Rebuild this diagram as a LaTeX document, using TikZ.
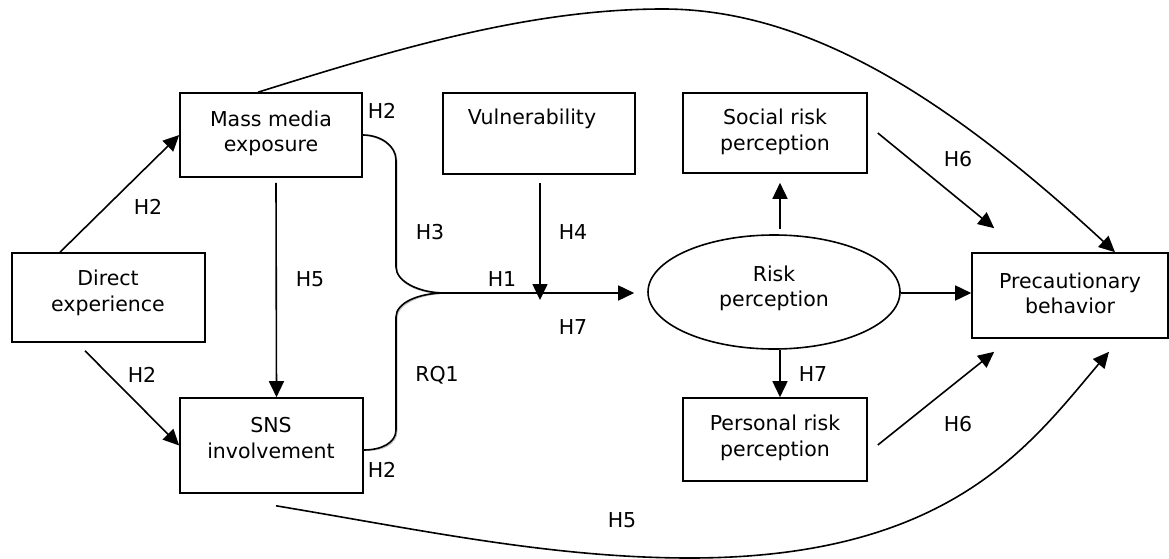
\documentclass[tikz,border=0pt]{standalone}
\usepackage{fontspec}
\setmainfont{DejaVu Sans}
\usetikzlibrary{arrows.meta,shapes.geometric,calc}
\begin{document}
\begin{tikzpicture}[x=1pt,y=-1pt,
  font=\fontsize{20.5}{25.5}\selectfont,
  box/.style={draw,line width=1.6pt,rectangle,inner sep=0pt},
  txt/.style={align=center,inner sep=0pt},
  lab/.style={inner sep=0pt},
  conn/.style={line width=1.6pt},
  arr/.style={line width=1.6pt,-{Triangle[length=16pt,width=15pt]}},
  shadowline/.style={line width=1.4pt,gray!45}
]
\useasboundingbox (0,0) rectangle (1169,559);

% boxes
\node[box,minimum width=182pt,minimum height=84pt] (mm) at (271,135) {};
\node[box,minimum width=193pt,minimum height=89pt] (de) at (108.5,297.5) {};
\node[box,minimum width=183pt,minimum height=95pt] (sns) at (271.5,445.5) {};
\node[box,minimum width=192pt,minimum height=81pt] (vu) at (539,133.5) {};
\node[box,minimum width=184pt,minimum height=80pt] (so) at (775,133) {};
\node[box,minimum width=184pt,minimum height=83pt] (pe) at (775,439.5) {};
\node[box,minimum width=196pt,minimum height=85pt] (pb) at (1070,295.5) {};
\node[draw,line width=1.6pt,ellipse,inner sep=0pt,minimum width=252pt,minimum height=114pt] (rp) at (774,292) {};

% box texts
\node[txt] (tmm) at (271,133.5) {Mass media\\exposure};
\node[txt] (tde) at (108,293) {Direct\\experience};
\node[txt] (tsns) at (271,438) {SNS\\involvement};
\node[txt] (tvu) at (532,119) {Vulnerability};
\node[txt] (tso) at (775,132) {Social risk\\perception};
\node[txt] (trp) at (774,288.5) {Risk\\perception};
\node[txt] (tpb) at (1070,293.5) {Precautionary\\behavior};
\node[txt] (tpe) at (775,438) {Personal risk\\perception};

% junction coordinates
\coordinate (j) at (445,293);
\coordinate (m) at ($(vu.south |- j)+(1,0)$);

% brace shadow
\draw[shadowline,shift={(0.8,1.3)}] (mm.east) .. controls (381,135) and (396,146) .. (396,160)
  -- (396,267) .. controls (396,281) and (418,293) .. (j);
\draw[shadowline,shift={(0.8,1.3)}] (j) .. controls (418,293) and (396,303) .. (396,317)
  -- (396,430) .. controls (396,443) and (381,450) .. ([yshift=-4.5pt]sns.east);
% brace
\draw[conn] (mm.east) .. controls (381,135) and (396,146) .. (396,160)
  -- (396,267) .. controls (396,281) and (418,293) .. (j);
\draw[conn] (j) .. controls (418,293) and (396,303) .. (396,317)
  -- (396,430) .. controls (396,443) and (381,450) .. ([yshift=-4.5pt]sns.east);

% connectors
\draw[arr] ([xshift=-48.5pt]de.north) -- (mm.west);
\draw[arr] ([xshift=-23.5pt,yshift=-8pt]de.south) -- (sns.west);
\draw[arr] ([xshift=5pt,yshift=-5pt]mm.south) -- ([xshift=5pt]sns.north);
\draw[arr] (j) -- ([xshift=-13pt]rp.west |- j);
\draw[arr] ([xshift=1pt,yshift=-8pt]vu.south) -- ([yshift=-7pt]m);
\draw[arr] ([xshift=6pt,yshift=5pt]rp.north) -- ([xshift=5pt,yshift=-9pt]so.south);
\draw[arr] ([xshift=6pt]rp.south) -- ([xshift=5pt]pe.north);
\draw[arr] ([yshift=-1pt]rp.east) -- ([yshift=-1pt]rp.east -| pb.west);
\draw[arr] ([xshift=10pt]so.east) -- ([xshift=23pt,yshift=24pt]pb.north west);
\draw[arr] ([xshift=10pt,yshift=-5.5pt]pe.east) -- ([xshift=23pt,yshift=-13pt]pb.south west);
\draw[arr] ([xshift=-13pt]mm.north) .. controls (393,50) and (528,9) .. (663,9)
  .. controls (810,9) and (950,100) .. ([xshift=45pt]pb.north);
\draw[arr] ([xshift=4.5pt,yshift=-12pt]sns.south) .. controls (416,529) and (550,558) .. (690,558)
  .. controls (950,558) and (1030,445) .. ([xshift=39pt,yshift=-13pt]pb.south);

% labels
\node[lab] (l1) at (382,111) {H2};
\node[lab] (l2) at (148,207) {H2};
\node[lab] (l3) at (310,279) {H5};
\node[lab] (l4) at (430,232) {H3};
\node[lab] (l5) at (573,232) {H4};
\node[lab] (l6) at (502,279) {H1};
\node[lab] (l7) at (573,327) {H7};
\node[lab] (l8) at (437,375) {RQ1};
\node[lab] (l9) at (382,470) {H2};
\node[lab] (l10) at (142,375) {H2};
\node[lab] (l11) at (622,520) {H5};
\node[lab] (l12) at (958,159) {H6};
\node[lab] (l13) at (958,424) {H6};
\node[lab] (l14) at (813,374) {H7};
\end{tikzpicture}
\end{document}
